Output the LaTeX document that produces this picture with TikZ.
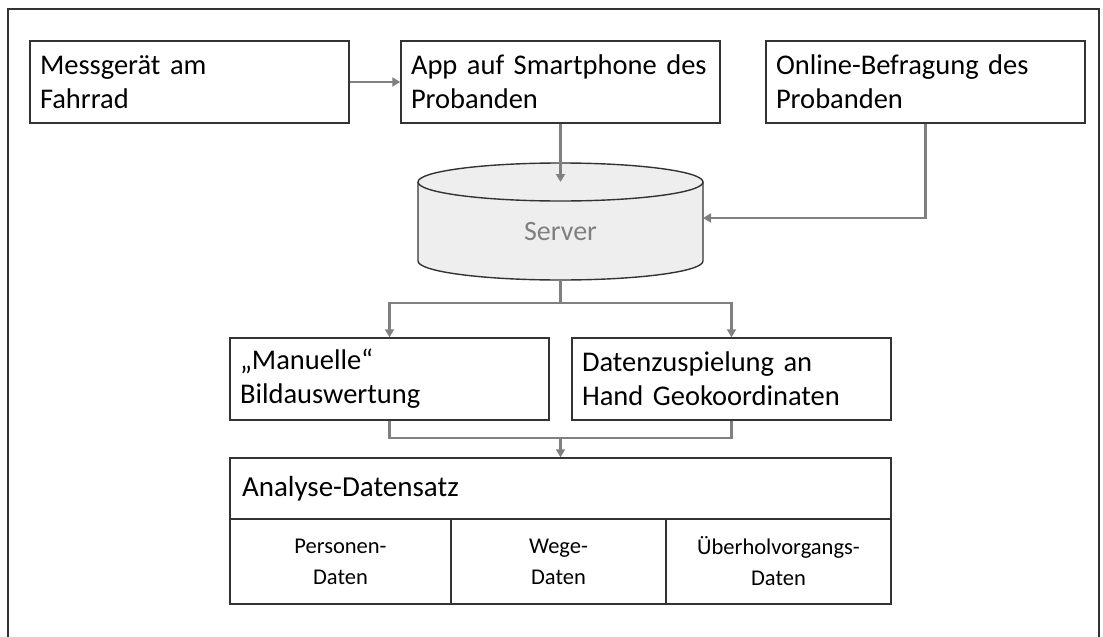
\documentclass[tikz,border=0pt]{standalone}
\usepackage{fontspec}
\setmainfont{Carlito}[WordSpace=0.75]
\usetikzlibrary{arrows.meta}
\definecolor{conngray}{HTML}{808080}
\definecolor{boxline}{HTML}{333333}
\definecolor{cylfill}{HTML}{EEEEEE}
\begin{document}
\begin{tikzpicture}[x=1pt,y=-1pt,
  box/.style={draw=boxline, line width=1.4pt, minimum width=319pt, minimum height=82pt,
    text width=299pt, inner xsep=10pt, inner ysep=0pt, align=left,
    font=\fontsize{28.5}{34}\selectfont},
  cell/.style={draw=boxline, line width=1.4pt, minimum height=85pt, inner sep=0pt,
    align=center, font=\fontsize{22.5}{31}\selectfont},
  conn/.style={draw=conngray, line width=2.2pt, -{Triangle[length=8pt,width=9pt]}},
  plain/.style={draw=conngray, line width=2.2pt}
]
\useasboundingbox (0,0) rectangle (1103,637);
% outer frame
\draw[line width=1.8pt, black!80] (8,637) -- (8,9) -- (1099,9) -- (1099,637);

% top boxes
\node[box] (mess) at (189.5,82) {Messgerät am\\Fahrrad};
\node[box] (app) at (560.5,82) {App auf Smartphone des\\Probanden};
\node[box] (online) at (925.5,82) {Online-Befragung des\\Probanden};

% server cylinder
\fill[cylfill] (418,182) -- (418,261) arc[start angle=180, end angle=0, x radius=142.5, y radius=19] -- (703,182) -- cycle;
\fill[cylfill] (560.5,182) ellipse [x radius=142.5, y radius=19];
\draw[boxline, line width=1.4pt] (418,182) -- (418,261) arc[start angle=180, end angle=0, x radius=142.5, y radius=19] -- (703,182);
\draw[boxline, line width=1.4pt] (560.5,182) ellipse [x radius=142.5, y radius=19];
\node[minimum width=285pt, minimum height=117pt, inner sep=0pt] (server) at (560.5,221.5) {};
\node[text=conngray, font=\fontsize{28}{32}\selectfont] (servertxt) at (560.5,232) {Server};
\coordinate (srvtop) at (560.5,182);
\coordinate (srvR) at (703,218);

% middle boxes
\node[box] (man) at (389.5,379) {„Manuelle“\\Bildauswertung};
\node[box] (dat) at (731.5,379) {Datenzuspielung an\\Hand Geokoordinaten};

% table
\node[draw=boxline, line width=1.4pt, minimum width=661pt, minimum height=61pt,
  text width=637pt, inner xsep=12pt, align=left, font=\fontsize{29}{34}\selectfont]
  (ana) at (560.5,488.5) {Analyse-Datensatz};
\node[cell, minimum width=221pt] (pers) at (340.5,561.5) {Personen-\\Daten};
\node[cell, minimum width=215pt] (wege) at (558.5,561.5) {Wege-\\Daten};
\node[cell, minimum width=225pt] (ueber) at (778.5,561.5) {Überholvorgangs-\\Daten};

% connectors
\draw[conn] (mess.east) -- (app.west);
\draw[conn] (app.south) -- (srvtop);
\draw[conn] (online.south) |- (srvR);
\coordinate (split) at (560.5,303);
\draw[conn] (server.south) -- (split) -| (man.north);
\draw[conn] (split) -| (dat.north);
\coordinate (merge) at (560.5,438);
\draw[plain] (man.south) |- (merge);
\draw[plain] (dat.south) |- (merge);
\draw[conn] (merge) -- (ana.north);
\end{tikzpicture}
\end{document}
